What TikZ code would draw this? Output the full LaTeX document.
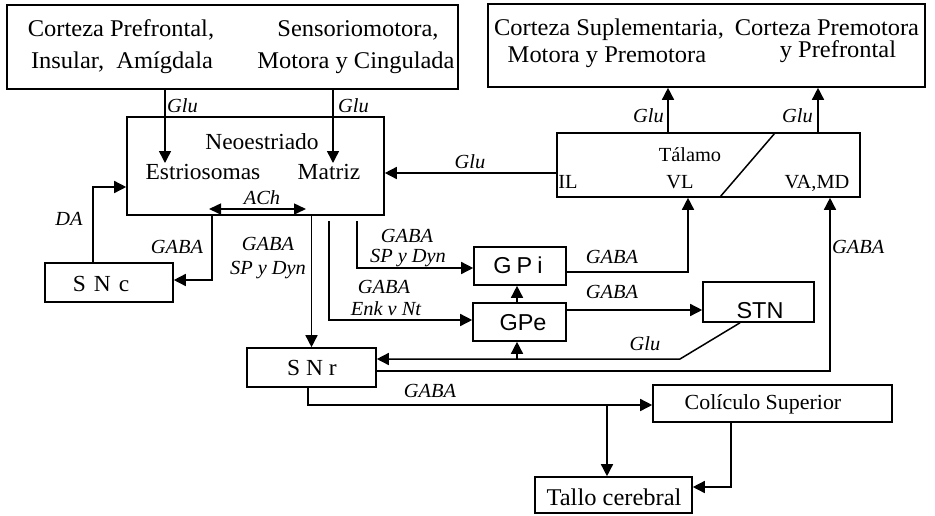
\documentclass[tikz,border=0pt]{standalone}
\usepackage{fontspec}
\setmainfont{Liberation Serif}[FakeStretch=1.02]
\setsansfont{Liberation Sans}[FakeStretch=1.02]
\usetikzlibrary{arrows.meta}
\newcommand{\fsA}{\fontsize{24}{28}\selectfont}
\newcommand{\fsB}{\fontsize{24}{28}\selectfont}
\newcommand{\fsC}{\fontsize{23}{27}\selectfont}
\newcommand{\fsT}{\fontsize{20}{23}\selectfont}
\newcommand{\fsS}{\fontsize{23}{27}\selectfont}
\newcommand{\fsK}{\fontsize{21.5}{25}\selectfont}
\newcommand{\fsL}{\fontsize{24}{28}\selectfont}
\newcommand{\fsG}{\sffamily\fontsize{23}{27}\selectfont}
\tikzset{
  box/.style={draw, line width=1.6pt, inner sep=0pt},
  conn/.style={line width=1.5pt},
  arr/.style={conn, -{Triangle[length=12pt,width=12pt]}},
  darr/.style={conn, {Triangle[length=12pt,width=11pt]}-{Triangle[length=12pt,width=11pt]}},
  lbl/.style={font=\fontsize{20}{22}\selectfont\itshape, inner sep=0pt, anchor=base},
  txt/.style={inner sep=0pt, anchor=base},
}
\begin{document}
\begin{tikzpicture}[x=1pt,y=-1pt]
\useasboundingbox (0,0) rectangle (935,515);
% boxes
\node[box, minimum width=451pt, minimum height=84pt] (ctxL) at (232.5,47) {};
\node[box, minimum width=437pt, minimum height=83pt] (ctxR) at (706.5,45.5) {};
\node[box, minimum width=257pt, minimum height=98pt] (neo) at (255.5,166) {};
\node[box, minimum width=303pt, minimum height=64pt] (tal) at (708.5,165) {};
\node[box, minimum width=128pt, minimum height=39pt] (snc) at (109,282.5) {};
\node[box, minimum width=129pt, minimum height=39pt] (snr) at (311.5,367.5) {};
\node[box, minimum width=92pt, minimum height=38pt] (gpi) at (520,266) {};
\node[box, minimum width=93pt, minimum height=38pt] (gpe) at (519.5,322) {};
\node[box, minimum width=111pt, minimum height=40pt] (stn) at (758.5,302) {};
\node[box, minimum width=239pt, minimum height=37pt] (col) at (772.5,403.5) {};
\node[box, minimum width=157pt, minimum height=36pt] (tallo) at (613.5,495) {};
% texts
\node[txt,font=\fsA] (t1) at (121,36) {Corteza Prefrontal,};
\node[txt,font=\fsA] (t2) at (122,68) {Insular,\ \ Amígdala};
\node[txt,font=\fsA] (t3) at (358,36) {Sensoriomotora,};
\node[txt,font=\fsA] (t4) at (356,68) {Motora y Cingulada};
\node[txt,font=\fsB] (t5) at (609,35) {Corteza Suplementaria,};
\node[txt,font=\fsB] (t6) at (607,62) {Motora y Premotora};
\node[txt,font=\fsB] (t7) at (827,35) {Corteza Premotora};
\node[txt,font=\fsB] (t8) at (838,57) {y Prefrontal};
\node[txt,font=\fsC] (t9) at (262,149) {Neoestriado};
\node[txt,font=\fsC] (t10) at (203,179) {Estriosomas};
\node[txt,font=\fsC] (t11) at (329,179) {Matriz};
\node[txt,font=\fsT] (t12) at (690,161) {Tálamo};
\node[txt,font=\fsT] (t13) at (568,188) {IL};
\node[txt,font=\fsT] (t14) at (680,188) {VL};
\node[txt,font=\fsT] (t15) at (817,188) {VA,MD};
\node[txt,font=\fsS] (t16) at (101,291) {\spaceskip=8pt S N c};
\node[txt,font=\fsS] (t17) at (312,375) {S N r};
\node[txt,font=\fsG] (t18) at (518,273) {G\kern5pt P\kern5pt i};
\node[txt,font=\fsG] (t19) at (523,330) {GPe};
\node[txt,font=\fsG] (t20) at (760,318) {STN};
\node[txt,font=\fsK] (t21) at (763,409) {Colículo Superior};
\node[txt,font=\fsL] (t22) at (614,505) {Tallo cerebral};
% diagonal in thalamus
\coordinate (d1) at (720,197);
\coordinate (d2) at (775,133);
\draw[conn] (d1) -- (d2);
% labels
\node[lbl,anchor=base west] (l1) at (167,112) {Glu};
\node[lbl,anchor=base west] (l2) at (338,112) {Glu};
\node[lbl] (l3) at (470,168) {Glu};
\node[lbl,anchor=base east] (l4) at (664,122) {Glu};
\node[lbl,anchor=base east] (l5) at (813,122) {Glu};
\node[lbl] (l6) at (262,204) {ACh};
\node[lbl] (l7) at (69,225) {DA};
\node[lbl] (l8) at (177,253) {GABA};
\node[lbl] (l9) at (268,250) {GABA};
\node[lbl] (l10) at (268,274) {SP y Dyn};
\node[lbl] (l11) at (407,242) {GABA};
\node[lbl] (l12) at (408,262) {SP y Dyn};
\node[lbl] (l13) at (384,293) {GABA};
\node[lbl] (l14) at (386,315) {Enk v Nt};
\node[lbl] (l15) at (612,263) {GABA};
\node[lbl] (l16) at (612,298) {GABA};
\node[lbl] (l17) at (645,350) {Glu};
\node[lbl,anchor=base west] (l18) at (832,253) {GABA};
\node[lbl] (l19) at (430,397) {GABA};
% coordinates
\coordinate (e1) at (165,163);
\coordinate (e2) at (333,163);
\coordinate (a1) at (209,209);
\coordinate (a2) at (306,209);
\coordinate (s1) at (740,322);
\coordinate (s2) at (680,359);
\coordinate (s3) at (517,359);
\coordinate (b1) at (607,405);
\coordinate (g1) at (329,221);
\coordinate (g2) at (357,221);
% connectors
\draw[arr] (ctxL.south -| e1) -- (e1);
\draw[arr] (ctxL.south -| e2) -- (e2);
\draw[arr] (tal.west |- 0,173) -- (neo.east |- 0,173);
\draw[arr] (tal.north -| 668,0) -- (ctxR.south -| 668,0);
\draw[arr] (tal.north -| 818,0) -- (ctxR.south -| 818,0);
\draw[darr] (a1) -- (a2);
\draw[arr] (snc.north -| 93,0) |- (neo.west |- 0,187);
\draw[arr] (neo.south -| 212,0) |- (snc.east |- 0,280);
\draw[arr] (neo.south -| snr.north) -- (snr.north);
\draw[arr] (g1) |- (gpe.west |- 0,320);
\draw[arr] (g2) |- (gpi.west |- 0,268);
\draw[arr] (gpe.north -| 517,0) -- (gpi.south -| 517,0);
\draw[arr] (gpi.east |- 0,272) -| (tal.south -| 688,0);
\draw[arr] (gpe.east |- 0,310) -- (stn.west |- 0,310);
\draw[arr] (stn.south -| s1) -- (s2) -- (snr.east |- s2);
\draw[arr] (s3) -- (gpe.south -| s3);
\draw[arr] (snr.east |- 0,371) -| (tal.south -| 830,0);
\draw[arr] (snr.south -| 308,0) |- (col.west |- b1);
\draw[arr] (b1) -- (tallo.north -| b1);
\draw[arr] (col.south -| 731,0) |- (tallo.east |- 0,487);
\end{tikzpicture}
\end{document}
